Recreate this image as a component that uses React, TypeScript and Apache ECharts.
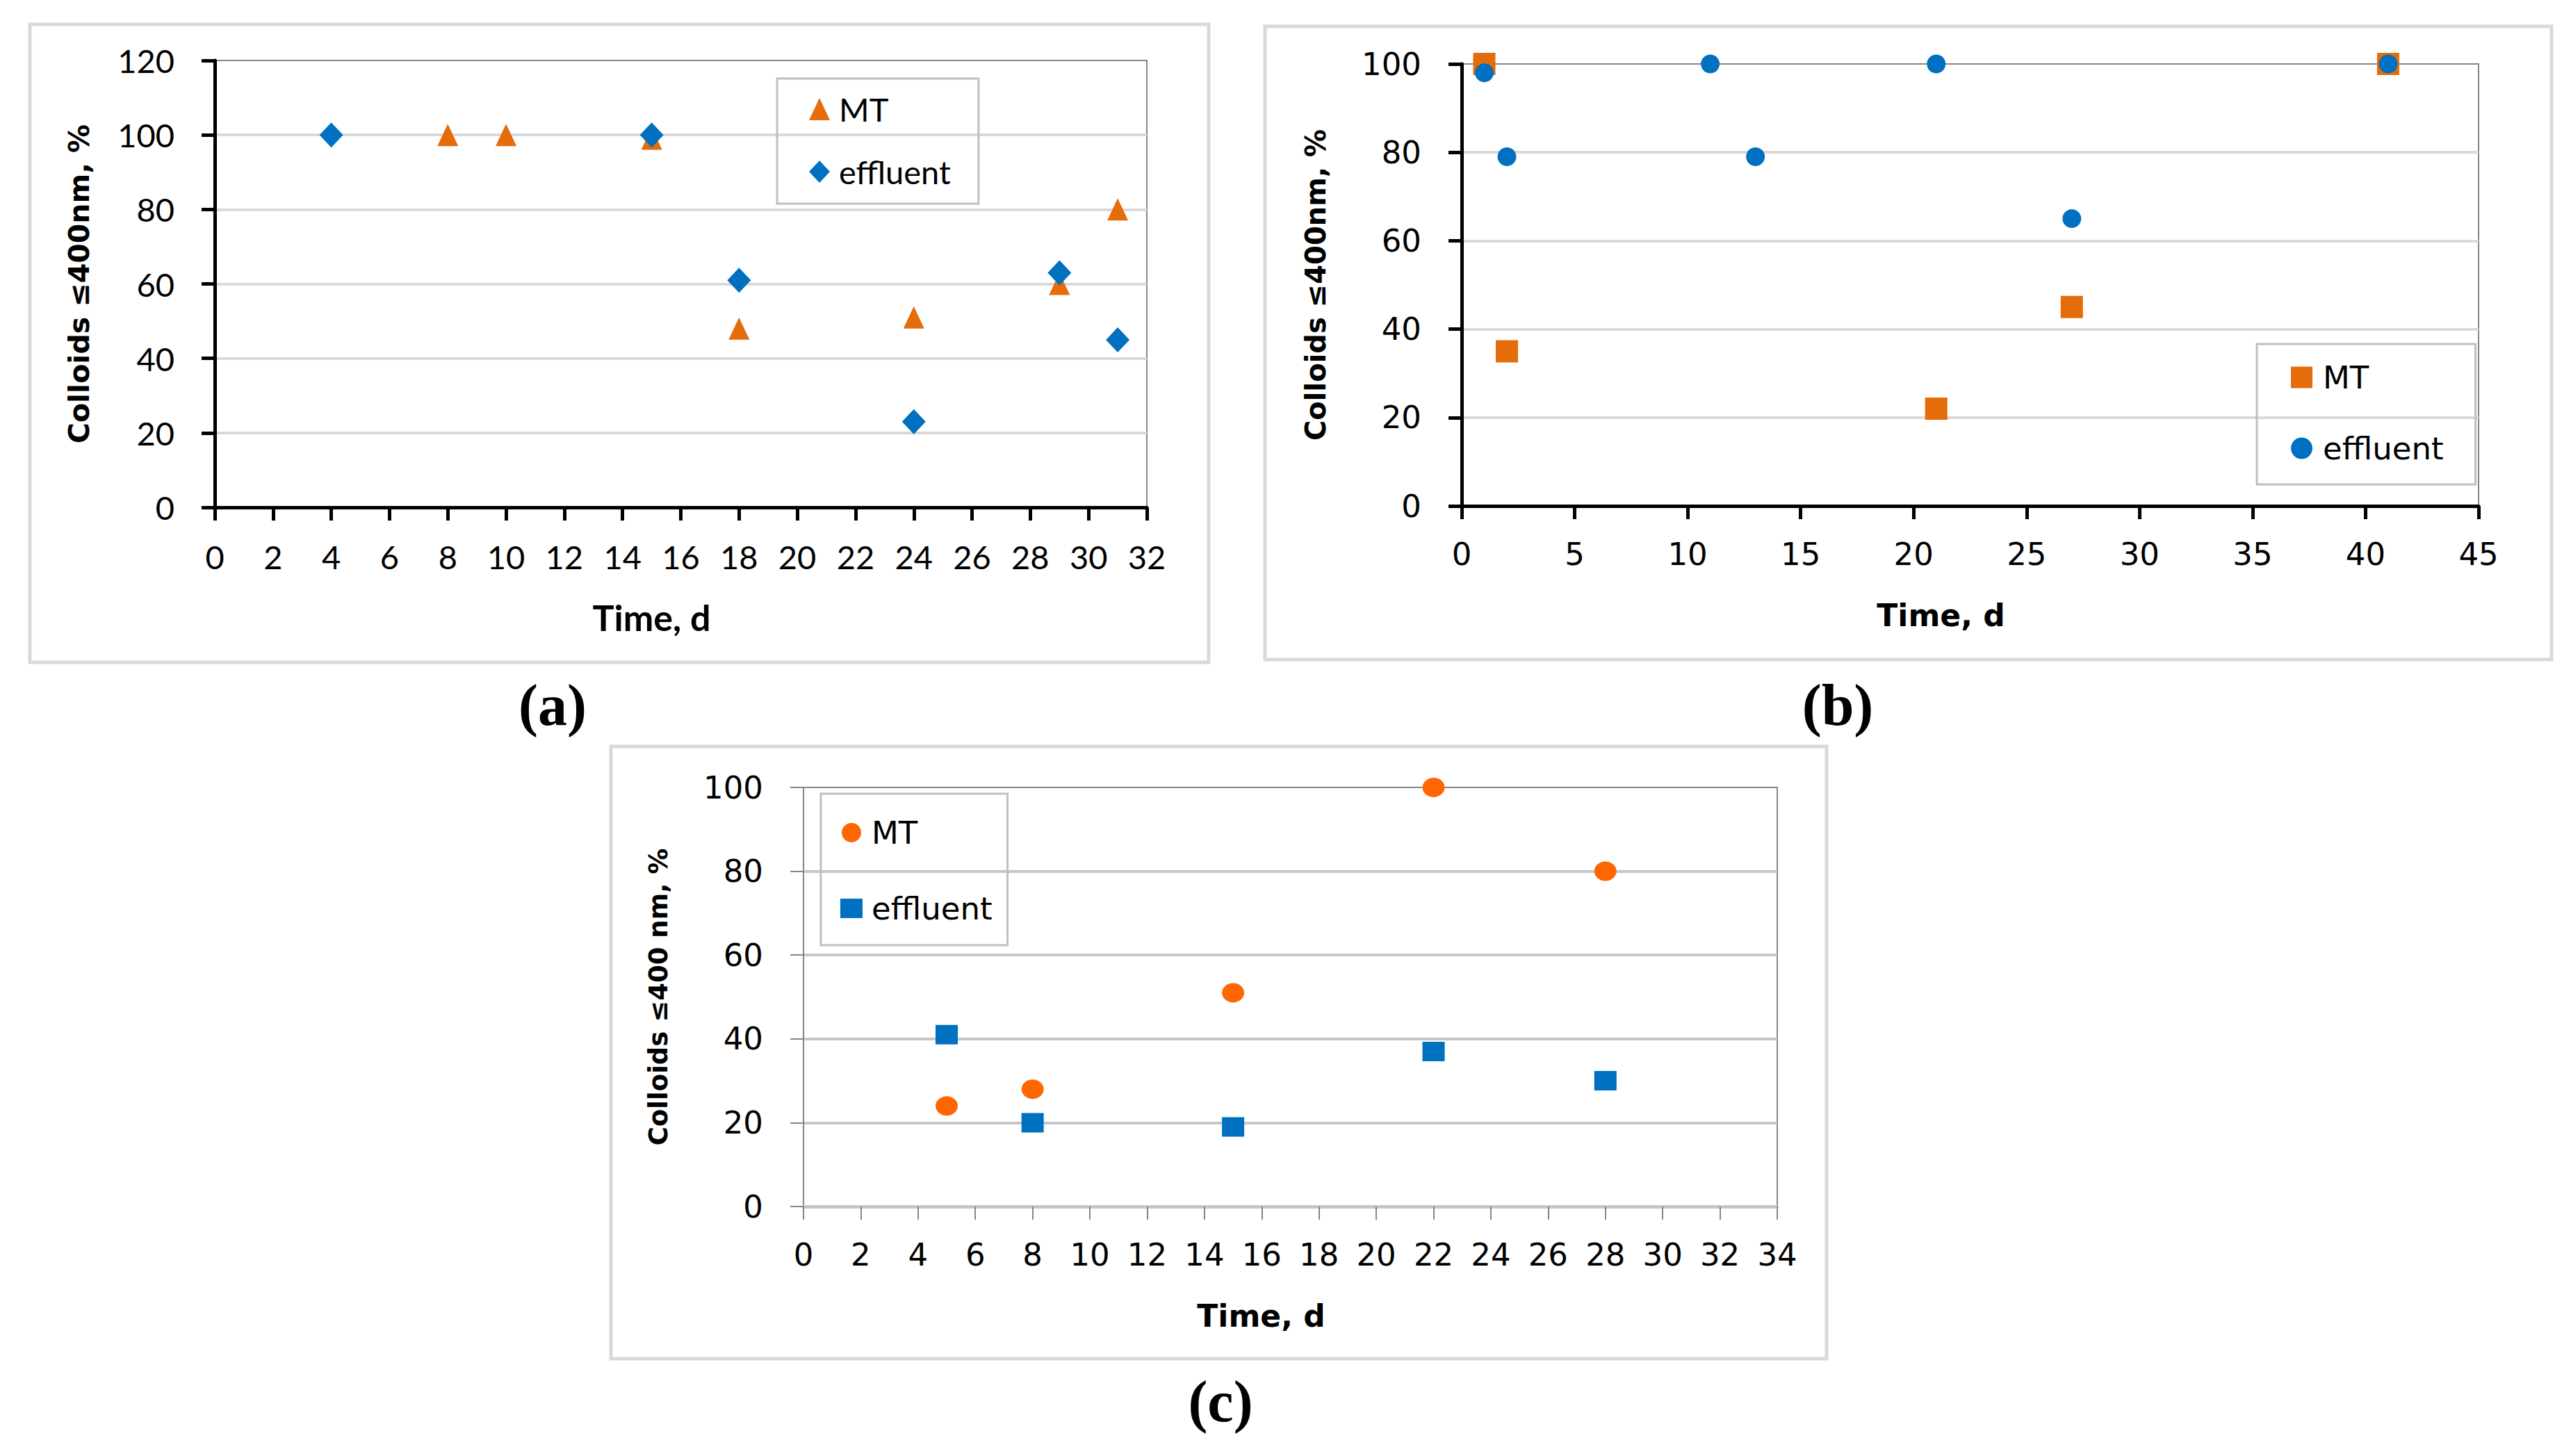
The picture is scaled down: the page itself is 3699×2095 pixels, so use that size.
import { useEffect, useRef } from 'react';
import * as echarts from 'echarts';

// panel (a)
const aMtDays = [8, 10, 15, 18, 24, 29, 31];
const aMtValues = [100, 100, 99, 48, 51, 60, 80];
const aEffDays = [4, 15, 18, 24, 29, 31];
const aEffValues = [100, 100, 61, 23, 63, 45];
// panel (b)
const bMtDays = [1, 2, 21, 27, 41];
const bMtValues = [100, 35, 22, 45, 100];
const bEffDays = [1, 2, 11, 13, 21, 27, 41];
const bEffValues = [98, 79, 100, 79, 100, 65, 100];
// panel (c)
const cMtDays = [5, 8, 15, 22, 28];
const cMtValues = [24, 28, 51, 100, 80];
const cEffDays = [5, 8, 15, 22, 28];
const cEffValues = [41, 20, 19, 37, 30];

const seriesNames = ['MT', 'effluent'];
const panelLabels = ['(a)', '(b)', '(c)'];
const yTitles = ['Colloids ≤400nm, %', 'Colloids ≤400nm, %', 'Colloids ≤400 nm, %'];
const xTitle = 'Time, d';
// [max, interval] per panel
const xRanges = [[32, 2], [45, 5], [34, 2]];
const yRanges = [[120, 20], [100, 20], [100, 20]];

const ORANGE = '#E46C0A';
const ORANGE_C = '#FF6600';
const BLUE = '#0070C0';

const pairs = (days: number[], vals: number[]) => days.map((d, i) => [d, vals[i]]);

export default function App() {
  const chartRef = useRef<HTMLDivElement>(null);

  useEffect(() => {
    if (!chartRef.current) return;
    const chart = echarts.init(chartRef.current, null, { renderer: 'svg' });

    const grids = [
      { left: 309, top: 87, width: 1341, height: 643 },
      { left: 2103, top: 92, width: 1463, height: 636 },
      { left: 1156, top: 1133, width: 1401, height: 603 },
    ];

    // per panel fonts: (a) narrow-ish, (b)/(c) wider
    const tickFont = ['Lato', 'DejaVu Sans', 'DejaVu Sans'];
    const tickSize = [47, 45, 45];
    const timeFont = ['Lato', 'DejaVu Sans', 'DejaVu Sans'];
    const timeSize = [52, 44, 44];
    const timeGap = [132, 135, 135];
    const yTitleSize = [41, 40, 37];
    const yNameGap = [175, 190, 190];

    const xAxis: any[] = grids.map((_, i) => {
      const light = i === 2;
      return {
        type: 'value',
        gridIndex: i,
        min: 0,
        max: xRanges[i][0],
        interval: xRanges[i][1],
        axisLine: {
          show: true,
          onZero: false,
          lineStyle: light ? { color: '#C6C6C6', width: 5 } : { color: '#000', width: 5 },
        },
        axisTick: {
          show: true,
          length: 19,
          lineStyle: light ? { color: '#868686', width: 2 } : { color: '#000', width: 5 },
        },
        axisLabel: { margin: 47, fontFamily: tickFont[i], fontSize: tickSize[i], color: '#000' },
        splitLine: { show: false },
        name: xTitle,
        nameLocation: 'middle',
        nameGap: timeGap[i],
        nameTextStyle: {
          fontFamily: timeFont[i],
          fontWeight: 'bold',
          fontSize: timeSize[i],
          color: '#000',
          padding: [0, 84, 0, 0],
        },
      };
    });

    const yAxis: any[] = grids.map((_, i) => {
      const light = i === 2;
      return {
        type: 'value',
        gridIndex: i,
        min: 0,
        max: yRanges[i][0],
        interval: yRanges[i][1],
        axisLine: {
          show: true,
          onZero: false,
          lineStyle: light ? { color: '#868686', width: 2 } : { color: '#000', width: 5 },
        },
        axisTick: {
          show: true,
          length: 19,
          lineStyle: light ? { color: '#868686', width: 2 } : { color: '#000', width: 5 },
        },
        axisLabel: { margin: 58, fontFamily: tickFont[i], fontSize: tickSize[i], color: '#000' },
        splitLine: {
          show: true,
          showMinLine: false,
          showMaxLine: false,
          lineStyle: { color: light ? '#C6C6C6' : '#D9D9D9', width: 4 },
        },
        name: yTitles[i],
        nameLocation: 'middle',
        nameGap: yNameGap[i],
        nameTextStyle: {
          fontFamily: 'DejaVu Sans',
          fontWeight: 'bold',
          fontSize: yTitleSize[i],
          color: '#000',
        },
      };
    });

    const dot = (color: string) => ({ color, opacity: 1 });

    const series: any[] = [
      { name: seriesNames[0], type: 'scatter', xAxisIndex: 0, yAxisIndex: 0, symbol: 'triangle', symbolSize: [30, 32], itemStyle: dot(ORANGE), data: pairs(aMtDays, aMtValues) },
      { name: seriesNames[1], type: 'scatter', xAxisIndex: 0, yAxisIndex: 0, symbol: 'diamond', symbolSize: [34, 36], itemStyle: dot(BLUE), data: pairs(aEffDays, aEffValues) },
      { name: seriesNames[0], type: 'scatter', xAxisIndex: 1, yAxisIndex: 1, symbol: 'rect', symbolSize: [32, 32], itemStyle: dot(ORANGE), data: pairs(bMtDays, bMtValues) },
      { name: seriesNames[1], type: 'scatter', xAxisIndex: 1, yAxisIndex: 1, symbol: 'circle', symbolSize: 27, itemStyle: dot(BLUE), data: pairs(bEffDays, bEffValues) },
      { name: seriesNames[0], type: 'scatter', xAxisIndex: 2, yAxisIndex: 2, symbol: 'circle', symbolSize: [32, 28], itemStyle: dot(ORANGE_C), data: pairs(cMtDays, cMtValues) },
      { name: seriesNames[1], type: 'scatter', xAxisIndex: 2, yAxisIndex: 2, symbol: 'rect', symbolSize: [32, 28], itemStyle: dot(BLUE), data: pairs(cEffDays, cEffValues) },
    ];

    const legendBase = {
      orient: 'vertical',
      borderColor: '#BFBFBF',
      borderWidth: 3,
      selectedMode: false,
    };

    const legend: any[] = [
      {
        ...legendBase,
        left: 1118,
        top: 113,
        padding: [19, 40, 21, 46],
        itemWidth: 30,
        itemHeight: 32,
        itemGap: 40,
        textStyle: { fontFamily: 'Lato', fontSize: 47, lineHeight: 50, color: '#000', padding: [0, 0, 0, 8] },
        data: [
          { name: seriesNames[0], icon: 'triangle', itemStyle: dot(ORANGE) },
          { name: seriesNames[1], icon: 'diamond', itemStyle: dot(BLUE) },
        ],
      },
      {
        ...legendBase,
        left: 3247,
        top: 495,
        padding: [23, 46, 27, 49],
        itemWidth: 31,
        itemHeight: 31,
        itemGap: 52,
        textStyle: { fontFamily: 'DejaVu Sans', fontSize: 45, lineHeight: 50, color: '#000', padding: [0, 0, 0, 10] },
        data: [
          { name: seriesNames[0], icon: 'rect', itemStyle: dot(ORANGE) },
          { name: seriesNames[1], icon: 'circle', itemStyle: dot(BLUE) },
        ],
      },
      {
        ...legendBase,
        left: 1181,
        top: 1142,
        padding: [31, 22, 28, 28],
        itemWidth: 32,
        itemHeight: 28,
        itemGap: 59,
        textStyle: { fontFamily: 'DejaVu Sans', fontSize: 45, lineHeight: 50, color: '#000', padding: [0, 0, 0, 8] },
        data: [
          { name: seriesNames[0], icon: 'circle', itemStyle: dot(ORANGE_C) },
          { name: seriesNames[1], icon: 'rect', itemStyle: dot(BLUE) },
        ],
      },
    ];

    const panelBox = (x: number, y: number, w: number, h: number) => ({
      type: 'rect',
      silent: true,
      z: -10,
      shape: { x, y, width: w, height: h },
      style: { fill: 'none', stroke: '#D9D9D9', lineWidth: 5 },
    });

    const labelAt = (text: string, x: number, y: number) => ({
      type: 'text',
      silent: true,
      x,
      y,
      style: {
        text,
        fontFamily: 'Liberation Serif',
        fontWeight: 'bold',
        fontSize: 84,
        fill: '#000',
        align: 'center',
        verticalAlign: 'middle',
        textAlign: 'center',
        textVerticalAlign: 'middle',
      },
    });

    const option: any = {
      animation: false,
      backgroundColor: '#fff',
      grid: grids.map((g) => ({ ...g, show: true, borderColor: '#868686', borderWidth: 2, backgroundColor: 'transparent' })),
      xAxis,
      yAxis,
      legend,
      series,
      graphic: [
        panelBox(43, 35, 1696, 918),
        panelBox(1820, 38, 1851, 911),
        panelBox(879, 1074, 1749, 881),
        labelAt(panelLabels[0], 795, 1014),
        labelAt(panelLabels[1], 2644, 1014),
        labelAt(panelLabels[2], 1756, 2016),
      ],
    };

    chart.setOption(option, true);

    const handleResize = () => chart.resize();
    window.addEventListener('resize', handleResize);
    return () => {
      window.removeEventListener('resize', handleResize);
      chart.dispose();
    };
  }, []);

  return (
    <div
      ref={chartRef}
      style={{ position: 'fixed', left: 0, top: 0, width: 3699, height: 2095, background: '#fff' }}
    />
  );
}
